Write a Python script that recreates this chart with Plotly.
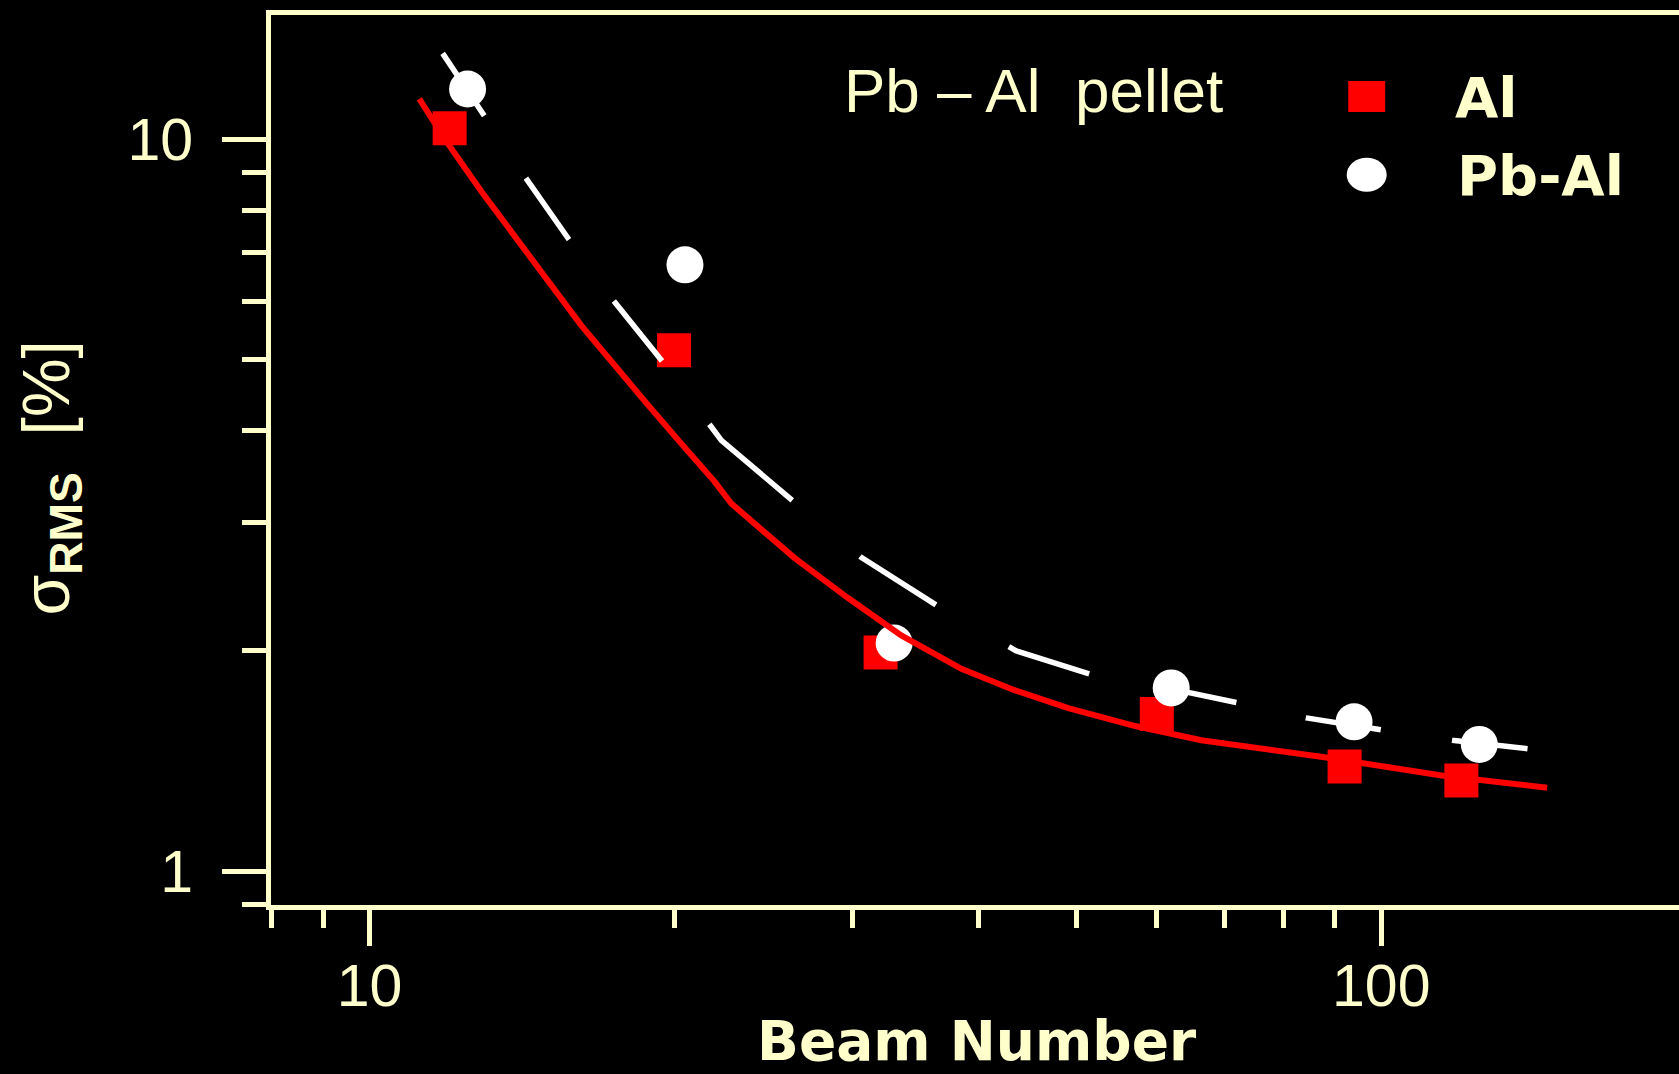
import plotly.graph_objects as go

# ---- data ----
al_beam = [12, 20, 32, 60, 92, 120]
al_sigma = [10.36, 5.15, 1.99, 1.64, 1.39, 1.33]

pbal_beam = [12.5, 20.5, 33, 62, 94, 125]
pbal_sigma = [11.72, 6.74, 2.05, 1.78, 1.60, 1.49]

al_fit_beam = [11.20, 11.91, 12.90, 13.90, 15.02, 16.19, 17.46, 18.86, 20.33, 21.92, 22.78,
               26.30, 29.74, 33.54, 38.46, 43.27, 49.05, 57.00, 66.38, 88.24, 115.2, 145.9]
al_fit_sigma = [11.36, 9.94, 8.49, 7.37, 6.40, 5.57, 4.91, 4.33, 3.84, 3.41, 3.18,
                2.68, 2.36, 2.10, 1.89, 1.77, 1.67, 1.58, 1.51, 1.43, 1.35, 1.30]

pbal_fit_beam = [11.81, 12.97, 14.26, 15.73, 17.43, 19.46, 21.65, 22.27, 26.18, 30.56,
                 36.32, 42.91, 43.57, 51.49, 60.18, 71.90, 84.33, 100.0, 117.5, 139.5]
pbal_fit_sigma = [13.11, 10.77, 8.87, 7.31, 6.02, 4.98, 4.08, 3.88, 3.21, 2.69,
                  2.31, 2.03, 2.00, 1.86, 1.79, 1.70, 1.62, 1.56, 1.51, 1.47]

x_tick_vals = [10, 100]
x_tick_text = ["10", "100"]
x_minor_vals = [8, 9, 20, 30, 40, 50, 60, 70, 80, 90]
y_tick_vals = [1, 10]
y_tick_text = ["1", "10"]
y_minor_vals = [0.9, 2, 3, 4, 5, 6, 7, 8, 9]

series_names = ["Al", "Pb-Al"]
title_text = "Pb \u2013 Al\u00a0 pellet"
x_title = "Beam Number"
y_title = "\u03c3<sub><b>RMS</b></sub>\u00a0\u00a0[%]"

# ---- styling ----
CREAM = "#FFFFCC"
RED = "#FF0000"
WHITE = "#FFFFFF"
REG = "Liberation Sans, Arial, sans-serif"
BOLD = "DejaVu Sans, Liberation Sans, Arial, sans-serif"

W, H = 1679, 1074
L, R, T, B = 271, 0, 15, 169
PW, PH = W - L - R, H - T - B


def px(xp):
    return (xp - L) / PW


def py(yp):
    return (H - B - yp) / PH


fig = go.Figure()

fig.add_trace(go.Scatter(x=al_beam, y=al_sigma, mode="markers", name=series_names[0],
                         marker=dict(symbol="square", size=34, color=RED, line=dict(width=0))))
fig.add_trace(go.Scatter(x=pbal_beam, y=pbal_sigma, mode="markers", name=series_names[1],
                         marker=dict(symbol="circle", size=37, color=WHITE, line=dict(width=0))))
fig.add_trace(go.Scatter(x=al_fit_beam, y=al_fit_sigma, mode="lines", name="Al fit",
                         line=dict(color=RED, width=6)))
fig.add_trace(go.Scatter(x=pbal_fit_beam, y=pbal_fit_sigma, mode="lines", name="Pb-Al fit",
                         line=dict(color=WHITE, width=5.5,
                                   dash="75px,75px,75px,76px,77px,79px,113px,88px,90px,84px,"
                                        "85px,70px,80px,71px,76px,72px,76px,300px")))

fig.update_layout(
    width=W, height=H,
    margin=dict(l=L, r=R, t=T, b=B, pad=0),
    paper_bgcolor="black", plot_bgcolor="black",
    showlegend=False,
    xaxis=dict(type="log", range=[0.90259, 0.90259 + PW / 1011.7],
               showgrid=False, zeroline=False,
               showline=True, linecolor=CREAM, linewidth=5, mirror=True,
               ticks="outside", ticklen=36, tickwidth=5, tickcolor=CREAM,
               tickmode="array", tickvals=x_tick_vals, ticktext=x_tick_text,
               tickfont=dict(family=REG, size=59, color=CREAM),
               ticklabelstandoff=-11,
               minor=dict(tickmode="array", tickvals=x_minor_vals, ticks="outside",
                          ticklen=18, tickwidth=5, tickcolor=CREAM, showgrid=False)),
    yaxis=dict(type="log", range=[-0.046257, -0.046257 + PH / 731.7],
               showgrid=False, zeroline=False,
               showline=True, linecolor=CREAM, linewidth=5, mirror=False,
               ticks="outside", ticklen=44, tickwidth=4.5, tickcolor=CREAM,
               tickmode="array", tickvals=y_tick_vals, ticktext=y_tick_text,
               tickfont=dict(family=REG, size=59, color=CREAM),
               ticklabelstandoff=17,
               minor=dict(tickmode="array", tickvals=y_minor_vals, ticks="outside",
                          ticklen=24, tickwidth=4.5, tickcolor=CREAM, showgrid=False)),
)

annotations = [
    dict(text=title_text, x=px(1033.7), y=py(90.9), xanchor="center", yanchor="middle",
         font=dict(family=REG, size=62, color=CREAM)),
    dict(text="<b>" + series_names[0] + "</b>", x=px(1453), y=py(97.3), xanchor="left",
         yanchor="middle", font=dict(family=BOLD, size=56, color=CREAM)),
    dict(text="<b>" + series_names[1] + "</b>", x=px(1455), y=py(175.6), xanchor="left",
         yanchor="middle", font=dict(family=BOLD, size=56, color=CREAM)),
    dict(text="<b>" + x_title + "</b>", x=px(976.5), y=py(1041), xanchor="center",
         yanchor="middle", font=dict(family=BOLD, size=55, color=CREAM)),
    dict(text=y_title, x=px(51), y=py(478.5), xanchor="center", yanchor="middle",
         textangle=-90, font=dict(family=REG, size=66, color=CREAM)),
]
for a in annotations:
    a.update(xref="paper", yref="paper", showarrow=False)
fig.update_layout(annotations=annotations)

# legend symbols
fig.add_shape(type="rect", xref="paper", yref="paper", xsizemode="pixel", ysizemode="pixel",
              xanchor=px(1366.7), yanchor=py(96.5), x0=-18.5, x1=18.5, y0=-15.5, y1=15.5,
              fillcolor=RED, line=dict(width=0), layer="above")
fig.add_shape(type="circle", xref="paper", yref="paper", xsizemode="pixel", ysizemode="pixel",
              xanchor=px(1366.7), yanchor=py(174.7), x0=-20, x1=20, y0=-17, y1=17,
              fillcolor=WHITE, line=dict(width=0), layer="above")

fig.write_html("out.html")
